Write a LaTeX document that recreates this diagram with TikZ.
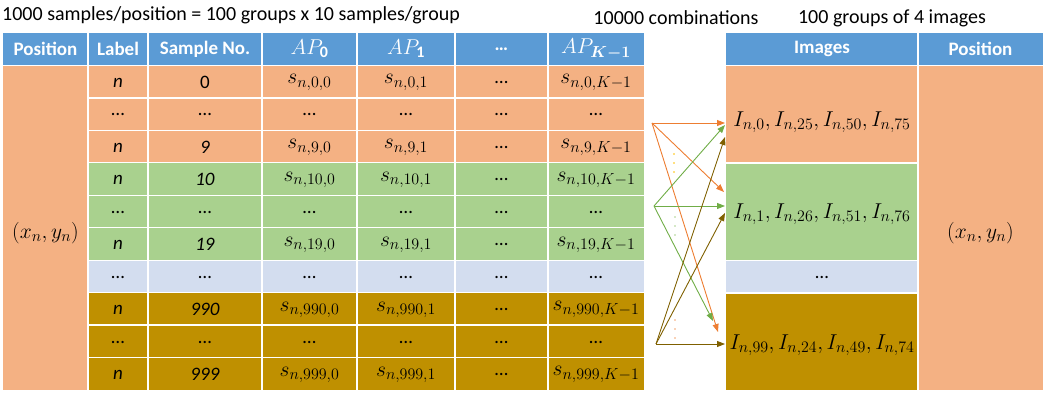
\RequirePackage{fix-cm}
\documentclass[tikz,border=0pt]{standalone}
\usepackage{amsmath}
\usepackage{fontspec}
\setmainfont{Carlito}
\usetikzlibrary{arrows.meta}
\DeclareMathSizes{19}{21.5}{16}{12}

\definecolor{hdrblue}{HTML}{5B9BD5}
\definecolor{cellorange}{HTML}{F4B183}
\definecolor{cellgreen}{HTML}{A9D18E}
\definecolor{cellblue}{HTML}{D3DDEF}
\definecolor{cellgold}{HTML}{BF9000}
\definecolor{arrorange}{HTML}{ED7D31}
\definecolor{arrgreen}{HTML}{70AD47}
\definecolor{arrgold}{HTML}{7F6000}
\definecolor{dotgold}{HTML}{FFC000}

\tikzset{
  txt/.style={font=\fontsize{19}{23}\selectfont, inner sep=0pt},
  ttl/.style={font=\fontsize{20}{24}\selectfont, inner sep=0pt},
  hdr/.style={txt, text=white, font=\fontsize{19}{23}\selectfont\bfseries},
  grid/.style={white, line width=1.3pt},
  link/.style={-{Triangle[length=8pt,width=6pt]}, line width=0.9pt}
}

% one row of the sample table: index, colour, label, sample no., AP0, AP1, AP(K-1)
\newcommand{\samplerow}[7]{%
  \pgfmathsetmacro{\ytop}{65.5+(#1-1)*32.45}
  \pgfmathsetmacro{\ybot}{\ytop+32.45}
  \pgfmathsetmacro{\ymid}{\ytop+17}
  \fill[#2] (88,\ytop) rectangle (644,\ybot);
  \node[txt] (lab#1) at (118,\ymid) {#3};
  \node[txt] (no#1) at (205,\ymid) {#4};
  \node[txt] (apa#1) at (309.5,\ymid) {#5};
  \node[txt] (apb#1) at (406,\ymid) {#6};
  \node[txt] (apc#1) at (501.5,\ymid) {\ldots};
  \node[txt] (apk#1) at (596,\ymid) {#7};
}

\begin{document}
\begin{tikzpicture}[x=1pt,y=-1pt]
	\useasboundingbox (0,0) rectangle (1050,393);

	% titles
	\node[ttl, anchor=west] (title) at (2,15) {1000 samples/position = 100 groups x 10 samples/group};
	\node[ttl] (comb) at (676,18) {10000 combinations};
	\node[ttl] (groups) at (892,18) {100 groups of 4 images};

	% left table
	\fill[hdrblue] (3,33) rectangle (644,65.5);
	\fill[cellorange] (3,65.5) rectangle (88,390);
	\samplerow{1}{cellorange}{\textit{n}}{0}{$s_{n,0,0}$}{$s_{n,0,1}$}{$s_{n,0,K-1}$}
	\samplerow{2}{cellorange}{\ldots}{\ldots}{\ldots}{\ldots}{\ldots}
	\samplerow{3}{cellorange}{\textit{n}}{\textit{9}}{$s_{n,9,0}$}{$s_{n,9,1}$}{$s_{n,9,K-1}$}
	\samplerow{4}{cellgreen}{\textit{n}}{\textit{10}}{$s_{n,10,0}$}{$s_{n,10,1}$}{$s_{n,10,K-1}$}
	\samplerow{5}{cellgreen}{\ldots}{\ldots}{\ldots}{\ldots}{\ldots}
	\samplerow{6}{cellgreen}{\textit{n}}{\textit{19}}{$s_{n,19,0}$}{$s_{n,19,1}$}{$s_{n,19,K-1}$}
	\samplerow{7}{cellblue}{\ldots}{\ldots}{\ldots}{\ldots}{\ldots}
	\samplerow{8}{cellgold}{\textit{n}}{\textit{990}}{$s_{n,990,0}$}{$s_{n,990,1}$}{$s_{n,990,K-1}$}
	\samplerow{9}{cellgold}{\ldots}{\ldots}{\ldots}{\ldots}{\ldots}
	\samplerow{10}{cellgold}{\textit{n}}{\textit{999}}{$s_{n,999,0}$}{$s_{n,999,1}$}{$s_{n,999,K-1}$}
	\foreach \x in {88,148,262,357,455,548}
		\draw[grid] (\x,33) -- (\x,390);
	\draw[grid] (3,65.5) -- (644,65.5);
	\foreach \i in {2,...,10}
		\draw[grid] (88,65.5+\i*32.45-32.45) -- (644,65.5+\i*32.45-32.45);
	\node[hdr] (hpos) at (45.5,49) {Position};
	\node[hdr] (hlab) at (118,49) {Label};
	\node[hdr] (hno) at (205,49) {Sample No.};
	\node[txt, text=white] (hapa) at (309.5,49) {$AP_{\mathbf{0}}$};
	\node[txt, text=white] (hapb) at (406,49) {$AP_{\mathbf{1}}$};
	\node[hdr] (hapc) at (501.5,49) {\ldots};
	\node[txt, text=white] (hapk) at (596,49) {$AP_{\boldsymbol{K-1}}$};
	\node[txt] (posl) at (45.5,233) {$(x_n, y_n)$};

	% right table
	\fill[hdrblue] (726,33) rectangle (1043,65.5);
	\fill[cellorange] (726,65.5) rectangle (918,163);
	\fill[cellgreen] (726,163) rectangle (918,260.5);
	\fill[cellblue] (726,260.5) rectangle (918,293);
	\fill[cellgold] (726,293) rectangle (918,390);
	\fill[cellorange] (918,65.5) rectangle (1043,390);
	\draw[grid] (918,33) -- (918,390);
	\draw[grid] (726,65.5) -- (1043,65.5);
	\draw[grid] (726,163) -- (918,163);
	\draw[grid] (726,260.5) -- (918,260.5);
	\draw[grid] (726,293) -- (918,293);
	\node[hdr] (himg) at (822,49) {Images};
	\node[hdr] (hposr) at (980.5,49) {Position};
	\node[txt] (imga) at (822,122) {$I_{n,0}, I_{n,25}, I_{n,50}, I_{n,75}$};
	\node[txt] (imgb) at (822,214) {$I_{n,1}, I_{n,26}, I_{n,51}, I_{n,76}$};
	\node[txt] (imgc) at (822,277) {\ldots};
	\node[txt] (imgd) at (822,345) {$I_{n,99}, I_{n,24}, I_{n,49}, I_{n,74}$};
	\node[txt] (posr) at (980.5,233) {$(x_n, y_n)$};

	% combinations
	\coordinate (srco) at (652,123);
	\coordinate (srcg) at (654,206);
	\coordinate (srcy) at (656,344);
	\coordinate (tgto1) at (725,123);
	\coordinate (tgto2) at (724,192);
	\coordinate (tgto3) at (718,332);
	\coordinate (tgtg1) at (725,125);
	\coordinate (tgtg2) at (725,206);
	\coordinate (tgtg3) at (713,321);
	\coordinate (tgty1) at (725,137);
	\coordinate (tgty2) at (725,213);
	\coordinate (tgty3) at (725,344);
	\draw[link, arrorange] (srco) -- (tgto1);
	\draw[link, arrorange] (srco) -- (tgto2);
	\draw[link, arrorange] (srco) -- (tgto3);
	\draw[link, arrgreen] (srcg) -- (tgtg1);
	\draw[link, arrgreen] (srcg) -- (tgtg2);
	\draw[link, arrgreen] (srcg) -- (tgtg3);
	\draw[link, arrgold] (srcy) -- (tgty1);
	\draw[link, arrgold] (srcy) -- (tgty2);
	\draw[link, arrgold] (srcy) -- (tgty3);
	\foreach \y in {154,163,172}
		\fill[dotgold] (674,\y) circle (0.9);
	\foreach \y in {217,226,235}
		\fill[cellgreen] (675,\y) circle (0.9);
	\foreach \y in {320,329,338}
		\fill[arrorange!70] (675,\y) circle (0.9);
\end{tikzpicture}
\end{document}
